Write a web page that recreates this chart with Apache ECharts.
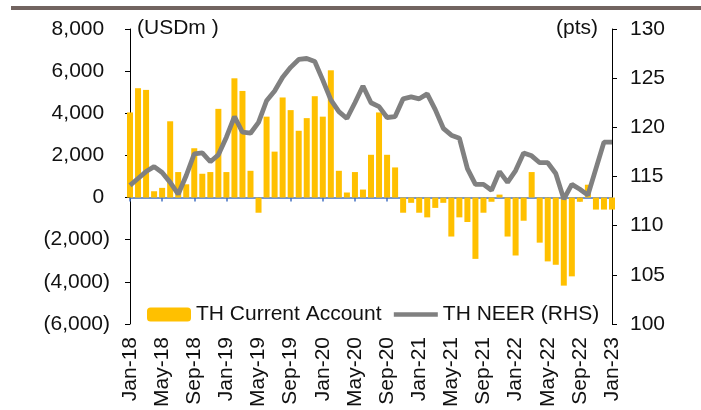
<!DOCTYPE html>
<html>
<head>
<meta charset="utf-8">
<script src="https://cdn.jsdelivr.net/npm/echarts@6/dist/echarts.min.js"></script>
<style>
  html, body { margin: 0; padding: 0; background: #fff; }
  #main { width: 701px; height: 410px; }
</style>
</head>
<body>
<div id="main"></div>
<script>
// 月份 Jan-18 ~ Jan-23
var months = [
  'Jan-18','Feb-18','Mar-18','Apr-18','May-18','Jun-18','Jul-18','Aug-18','Sep-18','Oct-18','Nov-18','Dec-18',
  'Jan-19','Feb-19','Mar-19','Apr-19','May-19','Jun-19','Jul-19','Aug-19','Sep-19','Oct-19','Nov-19','Dec-19',
  'Jan-20','Feb-20','Mar-20','Apr-20','May-20','Jun-20','Jul-20','Aug-20','Sep-20','Oct-20','Nov-20','Dec-20',
  'Jan-21','Feb-21','Mar-21','Apr-21','May-21','Jun-21','Jul-21','Aug-21','Sep-21','Oct-21','Nov-21','Dec-21',
  'Jan-22','Feb-22','Mar-22','Apr-22','May-22','Jun-22','Jul-22','Aug-22','Sep-22','Oct-22','Nov-22','Dec-22',
  'Jan-23'
];

// 经常账户 (USDm)
var currentAccount = [
  4040, 5190, 5110, 300, 460, 3620, 1210, 630, 2340, 1130, 1210, 4210,
  1210, 5660, 5060, 1270, -720, 3840, 2180, 4750, 4150, 3170, 3770, 4810,
  3840, 6040, 1270, 240, 1210, 380, 2030, 4040, 2030, 1430, -720, -250,
  -720, -940, -490, -250, -1850, -940, -1160, -2910, -720, -200, 140, -1850,
  -2750, -1100, 1210, -2140, -3030, -3190, -4180, -3740, -200, 610, -570, -570,
  -570
];

// NEER (pts)
var neer = [
  114.1, 114.8, 115.5, 116.0, 115.4, 114.4, 113.2, 115.1, 117.3, 117.4, 116.5, 117.2,
  119.0, 121.1, 119.5, 119.4, 120.5, 122.7, 123.7, 125.1, 126.1, 126.9, 127.0, 126.7,
  124.8, 122.8, 121.6, 120.9, 122.5, 124.2, 122.5, 122.1, 121.0, 121.1, 122.9, 123.1,
  122.9, 123.4, 121.8, 119.9, 119.2, 118.9, 115.8, 114.2, 114.2, 113.6, 115.5, 114.4,
  115.6, 117.4, 117.1, 116.4, 116.4, 115.3, 112.7, 114.2, 113.7, 113.1, 115.8, 118.5,
  118.5
];

var fontName = '"Liberation Sans", Arial, sans-serif';

function fmtLeft(v) {
  var s = Math.abs(v).toString().replace(/\B(?=(\d{3})+(?!\d))/g, ',');
  return v < 0 ? '(' + s + ')' : s + ' ';
}

var myChart = echarts.init(document.getElementById('main'));

var option = {
  animation: false,
  textStyle: { fontFamily: fontName },
  grid: { left: 130, right: 89, top: 29, bottom: 83, containLabel: false },
  legend: {
    left: 142,
    top: 299,
    itemWidth: 44,
    itemHeight: 14,
    itemGap: 10,
    textStyle: { fontSize: 21, color: '#111', fontFamily: fontName },
    data: [
      { name: 'TH Current Account' },
      { name: 'TH NEER (RHS)', itemStyle: { opacity: 0 }, lineStyle: { width: 4.5, color: '#808080' } }
    ]
  },
  graphic: [
    { type: 'rect', shape: { x: 11, y: 6, width: 700, height: 4 }, style: { fill: '#726460' } },
    { type: 'text', left: 137, top: 18, style: { text: '(USDm )', fontSize: 21, fill: '#111', fontFamily: fontName } },
    { type: 'text', right: 103, top: 18, style: { text: '(pts)', fontSize: 21, fill: '#111', fontFamily: fontName } }
  ],
  xAxis: [
    {
      type: 'category',
      data: months,
      boundaryGap: false,
      position: 'bottom',
      axisLine: { show: false, onZero: false },
      axisTick: { show: false },
      axisLabel: {
        rotate: 90,
        interval: 3,
        margin: 13,
        fontSize: 21,
        color: '#111',
        fontFamily: fontName
      }
    },
    {
      type: 'category',
      data: months,
      boundaryGap: false,
      position: 'bottom',
      axisLine: { show: true, onZero: true, onZeroAxisIndex: 0, lineStyle: { color: '#4472C4', width: 1.5 } },
      axisTick: { show: true, interval: 3, length: 4, lineStyle: { color: '#4472C4', width: 1.5 } },
      axisLabel: { show: false }
    }
  ],
  yAxis: [
    {
      type: 'value',
      min: -6000,
      max: 8000,
      interval: 2000,
      axisLine: { show: true, lineStyle: { color: '#000', width: 1 } },
      axisTick: { show: true, length: 5, lineStyle: { color: '#000' } },
      splitLine: { show: false },
      axisLabel: { formatter: fmtLeft, fontSize: 21, color: '#111', margin: 20, fontFamily: fontName }
    },
    {
      type: 'value',
      min: 100,
      max: 130,
      interval: 5,
      position: 'right',
      axisLine: { show: true, lineStyle: { color: '#000', width: 1 } },
      axisTick: { show: true, length: 5, lineStyle: { color: '#000' } },
      splitLine: { show: false },
      axisLabel: { fontSize: 21, color: '#111', margin: 18, fontFamily: fontName }
    }
  ],
  series: [
    {
      name: 'TH Current Account',
      type: 'bar',
      xAxisIndex: 0,
      yAxisIndex: 0,
      barWidth: 6,
      data: currentAccount,
      itemStyle: { color: '#FFC000' },
      z: 2
    },
    {
      name: 'TH NEER (RHS)',
      type: 'line',
      xAxisIndex: 0,
      yAxisIndex: 1,
      data: neer,
      symbol: 'none',
      lineStyle: { color: '#808080', width: 4.8 },
      itemStyle: { color: '#808080' },
      z: 3
    }
  ]
};

myChart.setOption(option);
</script>
</body>
</html>
